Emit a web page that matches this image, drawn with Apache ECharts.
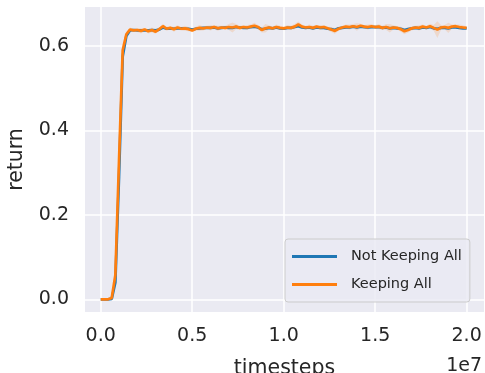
<!DOCTYPE html>
<html>
<head>
<meta charset="utf-8">
<script src="https://cdn.jsdelivr.net/npm/echarts@6/dist/echarts.min.js"></script>
<style>
  html, body { margin: 0; padding: 0; background: #ffffff; }
  #chart { width: 485px; height: 373px; }
</style>
</head>
<body>
<div id="chart"></div>
<script>
// Training steps sampled every 2e5 timesteps (0 .. 2e7)
const stepSize = 200000;
const stepCount = 101;

// Mean return per evaluation step
const notKeepingAll = [
  0, 0, 0, 0.001, 0.04, 0.29, 0.575, 0.624, 0.637, 0.638,
  0.637, 0.637, 0.637, 0.637, 0.638, 0.637, 0.639, 0.644, 0.641, 0.642,
  0.641, 0.642, 0.642, 0.641, 0.641, 0.639, 0.641, 0.642, 0.643, 0.643,
  0.643, 0.644, 0.642, 0.643, 0.644, 0.643, 0.643, 0.645, 0.644, 0.643,
  0.643, 0.645, 0.646, 0.644, 0.640, 0.641, 0.643, 0.642, 0.644, 0.642,
  0.641, 0.643, 0.643, 0.645, 0.647, 0.644, 0.643, 0.644, 0.642, 0.644,
  0.643, 0.643, 0.641, 0.640, 0.638, 0.642, 0.643, 0.644, 0.644, 0.646,
  0.644, 0.646, 0.645, 0.644, 0.645, 0.645, 0.645, 0.643, 0.644, 0.642,
  0.643, 0.642, 0.641, 0.638, 0.640, 0.642, 0.643, 0.642, 0.644, 0.643,
  0.645, 0.642, 0.641, 0.643, 0.643, 0.642, 0.644, 0.644, 0.643, 0.642,
  0.642
];

const keepingAll = [
  0, 0, 0, 0.003, 0.058, 0.33, 0.59, 0.628, 0.639, 0.637,
  0.638, 0.636, 0.639, 0.635, 0.638, 0.634, 0.640, 0.647, 0.641, 0.643,
  0.640, 0.644, 0.641, 0.642, 0.640, 0.637, 0.641, 0.643, 0.642, 0.644,
  0.643, 0.645, 0.642, 0.644, 0.643, 0.645, 0.644, 0.646, 0.643, 0.645,
  0.644, 0.646, 0.648, 0.645, 0.638, 0.642, 0.644, 0.642, 0.645, 0.643,
  0.642, 0.644, 0.643, 0.646, 0.651, 0.646, 0.644, 0.645, 0.643, 0.646,
  0.644, 0.645, 0.642, 0.639, 0.636, 0.641, 0.644, 0.646, 0.645, 0.647,
  0.645, 0.648, 0.646, 0.645, 0.647, 0.645, 0.646, 0.643, 0.645, 0.642,
  0.644, 0.643, 0.640, 0.635, 0.638, 0.642, 0.644, 0.643, 0.646, 0.644,
  0.647, 0.643, 0.639, 0.644, 0.645, 0.643, 0.646, 0.647, 0.645, 0.644,
  0.643
];

// Half-width of the spread band around "Keeping All"
const keepingAllSpread = [
  0, 0, 0, 0.002, 0.02, 0.04, 0.015, 0.006, 0.005, 0.004,
  0.005, 0.006, 0.004, 0.005, 0.006, 0.005, 0.004, 0.006, 0.005, 0.004,
  0.006, 0.005, 0.004, 0.006, 0.005, 0.004, 0.005, 0.007, 0.005, 0.004,
  0.006, 0.005, 0.006, 0.004, 0.005, 0.007, 0.012, 0.006, 0.005, 0.004,
  0.006, 0.005, 0.007, 0.005, 0.006, 0.010, 0.005, 0.004, 0.006, 0.005,
  0.004, 0.006, 0.005, 0.006, 0.007, 0.005, 0.004, 0.006, 0.005, 0.004,
  0.006, 0.005, 0.004, 0.006, 0.007, 0.005, 0.004, 0.005, 0.006, 0.005,
  0.009, 0.005, 0.004, 0.006, 0.005, 0.004, 0.006, 0.005, 0.007, 0.010,
  0.005, 0.004, 0.006, 0.007, 0.006, 0.005, 0.004, 0.006, 0.005, 0.004,
  0.006, 0.007, 0.020, 0.006, 0.005, 0.012, 0.005, 0.004, 0.006, 0.005,
  0.004
];

const xTicks = [0, 5000000, 10000000, 15000000, 20000000];
const xTickLabels = ['0.0', '0.5', '1.0', '1.5', '2.0'];
const yTicks = [0, 0.2, 0.4, 0.6];
const yTickLabels = ['0.0', '0.2', '0.4', '0.6'];

const steps = [];
for (let i = 0; i < stepCount; i++) steps.push(i * stepSize);

const pairs = (ys) => steps.map((x, i) => [x, ys[i]]);
const bandRows = steps.map((x, i) => [x, keepingAll[i] - keepingAllSpread[i], keepingAll[i] + keepingAllSpread[i]]);

const textColor = '#262626';
const fontFamily = '"DejaVu Sans", sans-serif';

const chart = echarts.init(document.getElementById('chart'), null, { renderer: 'canvas' });

// Spread band drawn as one polygon: upper edge forward, lower edge back
function renderBand(params, api) {
  if (params.dataIndex !== 0) return null;
  const upper = bandRows.map((r) => api.coord([r[0], r[2]]));
  const lower = bandRows.map((r) => api.coord([r[0], r[1]])).reverse();
  return {
    type: 'polygon',
    shape: { points: upper.concat(lower) },
    style: { fill: 'rgba(255,127,14,0.16)' },
    silent: true
  };
}

chart.setOption({
  animation: false,
  backgroundColor: '#ffffff',
  grid: { left: 85, right: 1, top: 7, bottom: 61, containLabel: false, outerBoundsMode: 'none',
          show: true, backgroundColor: '#EAEAF2', borderWidth: 0 },
  xAxis: {
    type: 'value',
    min: -860000,
    max: 20950000,
    axisLine: { show: false },
    axisTick: { show: false, customValues: xTicks },
    axisLabel: {
      customValues: xTicks,
      margin: 15,
      color: textColor,
      fontSize: 19,
      fontFamily: fontFamily,
      formatter: (v) => xTickLabels[xTicks.indexOf(v)]
    },
    splitLine: { show: true, lineStyle: { color: '#ffffff', width: 1.5 } },
    name: 'timesteps',
    nameLocation: 'middle',
    nameGap: 46,
    nameTextStyle: { color: textColor, fontSize: 20.5, fontFamily: fontFamily }
  },
  yAxis: {
    type: 'value',
    min: -0.030,
    max: 0.6925,
    axisLine: { show: false },
    axisTick: { show: false, customValues: yTicks },
    axisLabel: {
      customValues: yTicks,
      margin: 16,
      color: textColor,
      fontSize: 19,
      fontFamily: fontFamily,
      formatter: (v) => yTickLabels[yTicks.indexOf(v)]
    },
    splitLine: { show: true, lineStyle: { color: '#ffffff', width: 1.5 } },
    name: 'return',
    nameLocation: 'middle',
    nameGap: 58,
    nameRotate: 90,
    nameTextStyle: { color: textColor, fontSize: 20.5, fontFamily: fontFamily }
  },
  legend: {
    data: ['Not Keeping All', 'Keeping All'],
    orient: 'vertical',
    left: 285,
    top: 239,
    padding: [10, 8, 10, 7],
    itemGap: 13,
    itemWidth: 45,
    itemHeight: 3,
    icon: 'rect',
    backgroundColor: 'rgba(234,234,242,0.8)',
    borderColor: '#cccccc',
    borderWidth: 1,
    borderRadius: 3,
    textStyle: { color: textColor, fontSize: 14.5, fontFamily: fontFamily, padding: [0, 0, 0, 9] }
  },
  graphic: [{
    type: 'text',
    right: 3,
    top: 357,
    style: { text: '1e7', fill: textColor, font: '19px "DejaVu Sans", sans-serif' }
  }],
  series: [
    {
      name: 'spread',
      type: 'custom',
      data: bandRows,
      renderItem: renderBand,
      silent: true,
      z: 1
    },
    {
      name: 'Not Keeping All',
      type: 'line',
      data: pairs(notKeepingAll),
      symbol: 'none',
      color: '#1f77b4',
      lineStyle: { width: 2.7, color: '#1f77b4' },
      z: 2
    },
    {
      name: 'Keeping All',
      type: 'line',
      data: pairs(keepingAll),
      symbol: 'none',
      color: '#ff7f0e',
      lineStyle: { width: 2.7, color: '#ff7f0e' },
      z: 3
    }
  ]
});
</script>
</body>
</html>
